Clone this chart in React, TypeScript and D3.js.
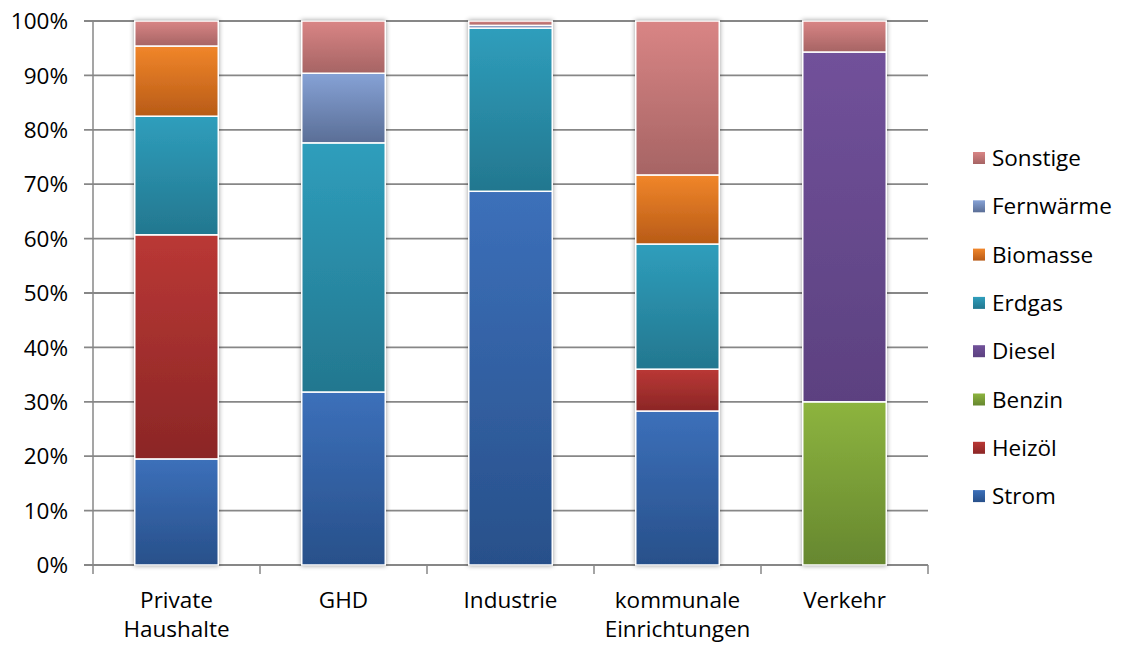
import React from "react";
import * as d3 from "d3";

const categories = ["Private\nHaushalte", "GHD", "Industrie", "kommunale\nEinrichtungen", "Verkehr"];
const seriesNames = ["Strom", "Heizöl", "Benzin", "Diesel", "Erdgas", "Biomasse", "Fernwärme", "Sonstige"];
const strom = [19.5, 31.8, 68.7, 28.3, 0];
const heizoel = [41.2, 0, 0, 7.7, 0];
const benzin = [0, 0, 0, 0, 30.0];
const diesel = [0, 0, 0, 0, 64.3];
const erdgas = [21.8, 45.8, 30.0, 23.0, 0];
const biomasse = [12.9, 0, 0, 12.7, 0];
const fernwaerme = [0, 12.8, 0.5, 0, 0];
const sonstige = [4.6, 9.6, 0.8, 28.3, 5.7];
const yTicks = [0, 10, 20, 30, 40, 50, 60, 70, 80, 90, 100];

const seriesValues = [strom, heizoel, benzin, diesel, erdgas, biomasse, fernwaerme, sonstige];
const gradTop = ["#3C70BA", "#BA3835", "#8DB43F", "#71519A", "#2F9EBC", "#F1862A", "#86A2D6", "#D98585"];
const gradBot = ["#28508A", "#8B2626", "#66872F", "#5C4180", "#23778F", "#B85B17", "#5A6E96", "#A66464"];

export default function App() {
  const W = 1122, H = 645;
  const left = 93, right = 928, top = 21, bottom = 565;
  const x = d3.scaleBand<number>().domain(d3.range(categories.length)).range([left, right]).paddingInner(0).paddingOuter(0);
  const y = d3.scaleLinear().domain([0, 100]).range([bottom, top]);
  const barW = x.bandwidth() * 0.5;

  const table = categories.map((_, i) => {
    const o: any = { i };
    seriesNames.forEach((s, k) => (o[s] = seriesValues[k][i]));
    return o;
  });
  const stacked = d3.stack<any>().keys(seriesNames)(table);
  const font = "'Open Sans', sans-serif";
  const fs = 22.5;

  return (
    <svg width={W} height={H} style={{ position: "absolute", left: 0, top: 0, background: "#fff" }}>
      <defs>
        {seriesNames.map((s, k) => (
          <linearGradient key={s} id={`g${k}`} x1="0" y1="0" x2="0" y2="1">
            <stop offset="0%" stopColor={gradTop[k]} />
            <stop offset="100%" stopColor={gradBot[k]} />
          </linearGradient>
        ))}
        <filter id="sh" x="-20%" y="-5%" width="140%" height="110%">
          <feGaussianBlur in="SourceAlpha" stdDeviation="2.5" />
          <feComponentTransfer><feFuncA type="linear" slope="0.4" /></feComponentTransfer>
          <feMerge><feMergeNode /><feMergeNode in="SourceGraphic" /></feMerge>
        </filter>
      </defs>
      {yTicks.map((t) => (
        <g key={t}>
          <line x1={84} x2={right} y1={y(t)} y2={y(t)} stroke="#878787" strokeWidth={1.8} />
          <text x={68} y={y(t)} dy="0.36em" textAnchor="end" fontFamily={font} fontSize={fs} fill="#000">{t}%</text>
        </g>
      ))}
      <line x1={left} x2={left} y1={top} y2={bottom} stroke="#878787" strokeWidth={1.5} />
      {d3.range(categories.length + 1).map((i) => {
        const xx = i < categories.length ? (x(i) as number) : right;
        return <line key={i} x1={xx} x2={xx} y1={bottom} y2={bottom + 9} stroke="#878787" strokeWidth={1.5} />;
      })}
      {categories.map((_, i) => (
        <g key={i} filter="url(#sh)">
          {stacked.map((layer, k) => {
            const [a, b] = layer[i];
            if (b - a <= 0) return null;
            const cx = (x(i) as number) + x.bandwidth() / 2;
            return (
              <rect key={k} x={cx - barW / 2} y={y(b)} width={barW} height={y(a) - y(b)}
                fill={`url(#g${k})`} stroke="#fff" strokeWidth={1.5} />
            );
          })}
        </g>
      ))}
      {categories.map((c, i) => {
        const cx = (x(i) as number) + x.bandwidth() / 2;
        return (
          <text key={i} x={cx} y={600} textAnchor="middle" fontFamily={font} fontSize={fs} fill="#000">
            {c.split("\n").map((ln, j) => (
              <tspan key={j} x={cx} dy={j === 0 ? "0.36em" : "1.27em"}>{ln}</tspan>
            ))}
          </text>
        );
      })}
      {seriesNames.slice().reverse().map((s, j) => {
        const k = seriesNames.length - 1 - j;
        const yy = 158 + j * 48.3;
        return (
          <g key={s}>
            <rect x={973} y={yy - 6} width={12} height={12} fill={`url(#g${k})`} />
            <text x={992} y={yy} dy="0.36em" fontFamily={font} fontSize={fs} fill="#000">{s}</text>
          </g>
        );
      })}
    </svg>
  );
}
